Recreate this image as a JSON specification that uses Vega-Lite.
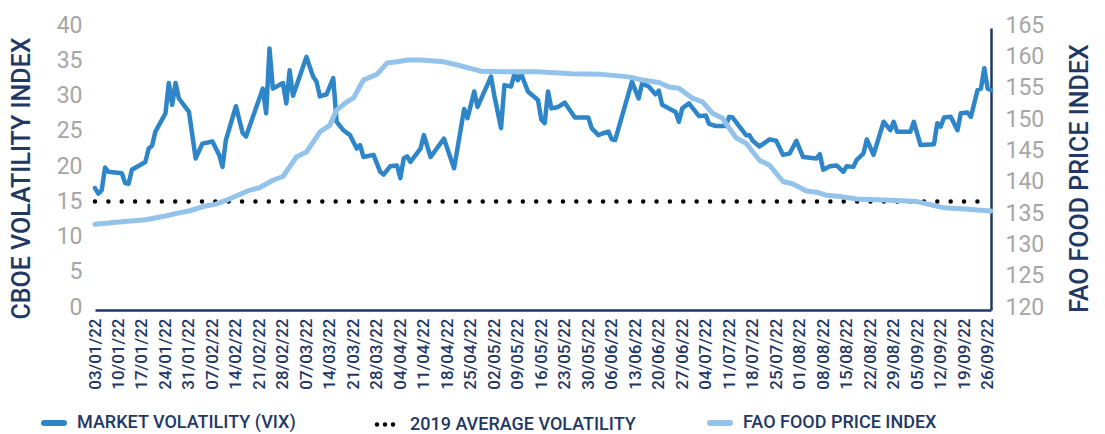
{
  "$schema": "https://vega.github.io/schema/vega-lite/v6.json",
  "width": 896,
  "height": 282,
  "autosize": {"type": "none"},
  "padding": {"left": 95, "top": 28, "right": 114, "bottom": 124},
  "background": "white",
  "config": {
    "view": {"stroke": null},
    "font": "Roboto",
    "axis": {"grid": false, "ticks": false}
  },
  "datasets": {
    "vix": [
      {"date": "2022-01-03", "value": 17.3}, {"date": "2022-01-04", "value": 16.5}, {"date": "2022-01-05", "value": 17.0},
      {"date": "2022-01-06", "value": 20.2}, {"date": "2022-01-07", "value": 19.6}, {"date": "2022-01-11", "value": 19.4},
      {"date": "2022-01-12", "value": 18.0}, {"date": "2022-01-13", "value": 17.9}, {"date": "2022-01-14", "value": 19.9},
      {"date": "2022-01-18", "value": 21.0}, {"date": "2022-01-19", "value": 22.9}, {"date": "2022-01-20", "value": 23.3},
      {"date": "2022-01-21", "value": 25.3}, {"date": "2022-01-24", "value": 27.9}, {"date": "2022-01-25", "value": 32.2},
      {"date": "2022-01-26", "value": 29.1}, {"date": "2022-01-27", "value": 32.2}, {"date": "2022-01-28", "value": 30.0},
      {"date": "2022-01-31", "value": 28.1}, {"date": "2022-02-02", "value": 21.5}, {"date": "2022-02-04", "value": 23.6},
      {"date": "2022-02-07", "value": 23.9}, {"date": "2022-02-09", "value": 22.0}, {"date": "2022-02-10", "value": 20.3},
      {"date": "2022-02-11", "value": 24.1}, {"date": "2022-02-14", "value": 28.9}, {"date": "2022-02-16", "value": 25.1},
      {"date": "2022-02-17", "value": 24.6}, {"date": "2022-02-22", "value": 31.4}, {"date": "2022-02-23", "value": 27.9},
      {"date": "2022-02-24", "value": 37.1}, {"date": "2022-02-25", "value": 31.4}, {"date": "2022-02-28", "value": 32.2},
      {"date": "2022-03-01", "value": 29.3}, {"date": "2022-03-02", "value": 34.0}, {"date": "2022-03-03", "value": 30.4},
      {"date": "2022-03-07", "value": 35.9}, {"date": "2022-03-09", "value": 33.1}, {"date": "2022-03-10", "value": 32.4},
      {"date": "2022-03-11", "value": 30.3}, {"date": "2022-03-13", "value": 30.6}, {"date": "2022-03-15", "value": 32.9},
      {"date": "2022-03-16", "value": 26.7}, {"date": "2022-03-18", "value": 25.5}, {"date": "2022-03-20", "value": 24.8},
      {"date": "2022-03-22", "value": 22.9}, {"date": "2022-03-23", "value": 23.4}, {"date": "2022-03-24", "value": 21.7},
      {"date": "2022-03-27", "value": 22.0}, {"date": "2022-03-29", "value": 19.6}, {"date": "2022-03-30", "value": 19.2},
      {"date": "2022-04-01", "value": 20.4}, {"date": "2022-04-03", "value": 20.5}, {"date": "2022-04-04", "value": 18.7},
      {"date": "2022-04-05", "value": 21.5}, {"date": "2022-04-06", "value": 21.8}, {"date": "2022-04-07", "value": 21.0},
      {"date": "2022-04-10", "value": 22.9}, {"date": "2022-04-11", "value": 24.8}, {"date": "2022-04-13", "value": 21.7},
      {"date": "2022-04-17", "value": 24.3}, {"date": "2022-04-19", "value": 21.5}, {"date": "2022-04-20", "value": 20.1},
      {"date": "2022-04-23", "value": 28.5}, {"date": "2022-04-24", "value": 27.2}, {"date": "2022-04-26", "value": 31.0},
      {"date": "2022-04-27", "value": 28.8}, {"date": "2022-05-01", "value": 33.1}, {"date": "2022-05-02", "value": 30.4},
      {"date": "2022-05-04", "value": 25.8}, {"date": "2022-05-05", "value": 31.9}, {"date": "2022-05-07", "value": 31.7},
      {"date": "2022-05-08", "value": 33.5}, {"date": "2022-05-09", "value": 32.6}, {"date": "2022-05-10", "value": 33.5},
      {"date": "2022-05-12", "value": 31.0}, {"date": "2022-05-15", "value": 29.8}, {"date": "2022-05-16", "value": 27.0},
      {"date": "2022-05-17", "value": 26.5}, {"date": "2022-05-18", "value": 31.0}, {"date": "2022-05-19", "value": 28.6},
      {"date": "2022-05-21", "value": 28.8}, {"date": "2022-05-23", "value": 29.4}, {"date": "2022-05-26", "value": 27.3},
      {"date": "2022-05-30", "value": 27.3}, {"date": "2022-05-31", "value": 25.8}, {"date": "2022-06-02", "value": 24.8},
      {"date": "2022-06-03", "value": 25.0}, {"date": "2022-06-05", "value": 25.3}, {"date": "2022-06-06", "value": 24.2},
      {"date": "2022-06-07", "value": 24.1}, {"date": "2022-06-12", "value": 32.4}, {"date": "2022-06-14", "value": 30.0},
      {"date": "2022-06-15", "value": 32.1}, {"date": "2022-06-17", "value": 31.7}, {"date": "2022-06-19", "value": 30.6},
      {"date": "2022-06-20", "value": 31.1}, {"date": "2022-06-21", "value": 29.1}, {"date": "2022-06-25", "value": 28.1},
      {"date": "2022-06-26", "value": 26.7}, {"date": "2022-06-27", "value": 28.6}, {"date": "2022-06-29", "value": 29.3},
      {"date": "2022-07-02", "value": 27.5}, {"date": "2022-07-04", "value": 27.6}, {"date": "2022-07-05", "value": 26.4},
      {"date": "2022-07-07", "value": 26.1}, {"date": "2022-07-10", "value": 26.1}, {"date": "2022-07-11", "value": 27.4},
      {"date": "2022-07-12", "value": 27.3}, {"date": "2022-07-16", "value": 24.8}, {"date": "2022-07-17", "value": 24.8},
      {"date": "2022-07-18", "value": 24.0}, {"date": "2022-07-20", "value": 23.2}, {"date": "2022-07-23", "value": 24.2},
      {"date": "2022-07-25", "value": 24.0}, {"date": "2022-07-27", "value": 22.0}, {"date": "2022-07-29", "value": 22.2},
      {"date": "2022-07-31", "value": 24.0}, {"date": "2022-08-02", "value": 21.7}, {"date": "2022-08-06", "value": 21.5},
      {"date": "2022-08-07", "value": 22.1}, {"date": "2022-08-08", "value": 19.9}, {"date": "2022-08-10", "value": 20.4},
      {"date": "2022-08-12", "value": 20.5}, {"date": "2022-08-14", "value": 19.6}, {"date": "2022-08-15", "value": 20.4},
      {"date": "2022-08-17", "value": 20.3}, {"date": "2022-08-18", "value": 21.3}, {"date": "2022-08-20", "value": 22.2},
      {"date": "2022-08-21", "value": 24.2}, {"date": "2022-08-23", "value": 22.0}, {"date": "2022-08-26", "value": 26.7},
      {"date": "2022-08-28", "value": 25.5}, {"date": "2022-08-29", "value": 26.7}, {"date": "2022-08-30", "value": 25.3},
      {"date": "2022-09-03", "value": 25.3}, {"date": "2022-09-04", "value": 26.7}, {"date": "2022-09-06", "value": 23.4},
      {"date": "2022-09-10", "value": 23.5}, {"date": "2022-09-11", "value": 26.5}, {"date": "2022-09-12", "value": 26.0},
      {"date": "2022-09-13", "value": 27.3}, {"date": "2022-09-15", "value": 27.4}, {"date": "2022-09-17", "value": 25.5},
      {"date": "2022-09-18", "value": 27.9}, {"date": "2022-09-20", "value": 28.0}, {"date": "2022-09-21", "value": 27.4},
      {"date": "2022-09-23", "value": 31.2}, {"date": "2022-09-24", "value": 31.4}, {"date": "2022-09-25", "value": 34.3},
      {"date": "2022-09-26", "value": 31.4}, {"date": "2022-09-27", "value": 31.2}
    ],
    "avg": [
      {"date": "2022-01-03", "value": 15.39},
      {"date": "2022-09-23", "value": 15.39}
    ],
    "fao": [
      {"date": "2022-01-03", "value": 133.7}, {"date": "2022-01-11", "value": 134.1}, {"date": "2022-01-18", "value": 134.4},
      {"date": "2022-01-24", "value": 135.0}, {"date": "2022-01-28", "value": 135.5}, {"date": "2022-01-31", "value": 135.8},
      {"date": "2022-02-05", "value": 136.6}, {"date": "2022-02-08", "value": 136.9}, {"date": "2022-02-12", "value": 137.7},
      {"date": "2022-02-18", "value": 139.1}, {"date": "2022-02-21", "value": 139.5}, {"date": "2022-02-25", "value": 140.7},
      {"date": "2022-02-28", "value": 141.3}, {"date": "2022-03-04", "value": 144.4}, {"date": "2022-03-07", "value": 145.2},
      {"date": "2022-03-11", "value": 148.4}, {"date": "2022-03-14", "value": 149.5}, {"date": "2022-03-16", "value": 151.9},
      {"date": "2022-03-19", "value": 153.2}, {"date": "2022-03-21", "value": 153.8}, {"date": "2022-03-24", "value": 156.7},
      {"date": "2022-03-28", "value": 157.6}, {"date": "2022-03-31", "value": 159.4}, {"date": "2022-04-03", "value": 159.6},
      {"date": "2022-04-06", "value": 159.9}, {"date": "2022-04-10", "value": 159.9}, {"date": "2022-04-17", "value": 159.6},
      {"date": "2022-04-21", "value": 159.1}, {"date": "2022-04-26", "value": 158.4}, {"date": "2022-04-28", "value": 158.1},
      {"date": "2022-05-05", "value": 158.0}, {"date": "2022-05-15", "value": 158.0}, {"date": "2022-05-25", "value": 157.7},
      {"date": "2022-06-03", "value": 157.6}, {"date": "2022-06-11", "value": 157.2}, {"date": "2022-06-15", "value": 156.7},
      {"date": "2022-06-20", "value": 156.3}, {"date": "2022-06-23", "value": 155.6}, {"date": "2022-06-26", "value": 155.4},
      {"date": "2022-06-30", "value": 153.8}, {"date": "2022-07-03", "value": 153.2}, {"date": "2022-07-06", "value": 151.4},
      {"date": "2022-07-09", "value": 150.6}, {"date": "2022-07-11", "value": 149.0}, {"date": "2022-07-13", "value": 147.5},
      {"date": "2022-07-16", "value": 146.6}, {"date": "2022-07-20", "value": 143.9}, {"date": "2022-07-23", "value": 143.1},
      {"date": "2022-07-27", "value": 140.5}, {"date": "2022-07-30", "value": 140.1}, {"date": "2022-08-03", "value": 139.0},
      {"date": "2022-08-06", "value": 138.8}, {"date": "2022-08-09", "value": 138.3}, {"date": "2022-08-13", "value": 138.1},
      {"date": "2022-08-18", "value": 137.7}, {"date": "2022-08-28", "value": 137.5}, {"date": "2022-09-05", "value": 137.3},
      {"date": "2022-09-13", "value": 136.3}, {"date": "2022-09-19", "value": 136.1}, {"date": "2022-09-27", "value": 135.8}
    ]
  },
  "encoding": {
    "x": {
      "field": "date",
      "type": "temporal",
      "scale": {
        "type": "utc",
        "domain": [
          {"year": 2022, "month": 1, "date": 3, "utc": true},
          {"year": 2022, "month": 9, "date": 27, "utc": true}
        ]
      },
      "axis": {
        "title": null,
        "format": "%d/%m/%y",
        "labelAngle": 270,
        "labelFontSize": 17,
        "labelFontWeight": 500,
        "labelColor": "#1F3864",
        "labelPadding": 8,
        "labelOverlap": false,
        "labelFlush": false,
        "domainColor": "#1F3864",
        "domainWidth": 2.5,
        "values": [
          {"year": 2022, "month": 1, "date": 3, "utc": true}, {"year": 2022, "month": 1, "date": 10, "utc": true},
          {"year": 2022, "month": 1, "date": 17, "utc": true}, {"year": 2022, "month": 1, "date": 24, "utc": true},
          {"year": 2022, "month": 1, "date": 31, "utc": true}, {"year": 2022, "month": 2, "date": 7, "utc": true},
          {"year": 2022, "month": 2, "date": 14, "utc": true}, {"year": 2022, "month": 2, "date": 21, "utc": true},
          {"year": 2022, "month": 2, "date": 28, "utc": true}, {"year": 2022, "month": 3, "date": 7, "utc": true},
          {"year": 2022, "month": 3, "date": 14, "utc": true}, {"year": 2022, "month": 3, "date": 21, "utc": true},
          {"year": 2022, "month": 3, "date": 28, "utc": true}, {"year": 2022, "month": 4, "date": 4, "utc": true},
          {"year": 2022, "month": 4, "date": 11, "utc": true}, {"year": 2022, "month": 4, "date": 18, "utc": true},
          {"year": 2022, "month": 4, "date": 25, "utc": true}, {"year": 2022, "month": 5, "date": 2, "utc": true},
          {"year": 2022, "month": 5, "date": 9, "utc": true}, {"year": 2022, "month": 5, "date": 16, "utc": true},
          {"year": 2022, "month": 5, "date": 23, "utc": true}, {"year": 2022, "month": 5, "date": 30, "utc": true},
          {"year": 2022, "month": 6, "date": 6, "utc": true}, {"year": 2022, "month": 6, "date": 13, "utc": true},
          {"year": 2022, "month": 6, "date": 20, "utc": true}, {"year": 2022, "month": 6, "date": 27, "utc": true},
          {"year": 2022, "month": 7, "date": 4, "utc": true}, {"year": 2022, "month": 7, "date": 11, "utc": true},
          {"year": 2022, "month": 7, "date": 18, "utc": true}, {"year": 2022, "month": 7, "date": 25, "utc": true},
          {"year": 2022, "month": 8, "date": 1, "utc": true}, {"year": 2022, "month": 8, "date": 8, "utc": true},
          {"year": 2022, "month": 8, "date": 15, "utc": true}, {"year": 2022, "month": 8, "date": 22, "utc": true},
          {"year": 2022, "month": 8, "date": 29, "utc": true}, {"year": 2022, "month": 9, "date": 5, "utc": true},
          {"year": 2022, "month": 9, "date": 12, "utc": true}, {"year": 2022, "month": 9, "date": 19, "utc": true},
          {"year": 2022, "month": 9, "date": 26, "utc": true}
        ]
      }
    }
  },
  "layer": [
    {
      "encoding": {
        "y": {
          "field": "value",
          "type": "quantitative",
          "scale": {"domain": [0, 40], "nice": false, "zero": false},
          "axis": {
            "orient": "left",
            "values": [0, 5, 10, 15, 20, 25, 30, 35, 40],
            "domain": false,
            "labelColor": "#A6A6A6",
            "labelFontSize": 23,
            "labelPadding": 13,
            "labelOffset": -3,
            "title": "CBOE VOLATILITY INDEX",
            "titleColor": "#1F3864",
            "titleFontSize": 25,
            "titleFontWeight": 500,
            "titleAngle": 270,
            "titleX": -74,
            "titleY": 150,
            "titleAlign": "center",
            "titleBaseline": "middle"
          }
        }
      },
      "layer": [
        {
          "data": {"name": "vix"},
          "mark": {"type": "line", "strokeWidth": 4.5, "strokeJoin": "round", "strokeCap": "round"},
          "encoding": {
            "color": {
              "datum": "MARKET VOLATILITY (VIX)",
              "type": "nominal",
              "scale": {
                "domain": ["MARKET VOLATILITY (VIX)", "2019 AVERAGE VOLATILITY", "FAO FOOD PRICE INDEX"],
                "range": ["#2E86C8", "#000000", "#93C3EA"]
              },
              "legend": {
                "title": null,
                "orient": "none",
                "direction": "horizontal",
                "columns": 3,
                "legendX": -50,
                "legendY": 386,
                "gridAlign": "all",
                "columnPadding": 62,
                "symbolType": "stroke",
                "symbolSize": 400,
                "symbolStrokeWidth": 6,
                "labelFont": "Roboto",
                "labelFontSize": 18,
                "labelFontWeight": 500,
                "labelColor": "#1F3864",
                "labelOffset": 14,
                "labelLimit": 400,
                "encode": {
                  "symbols": {
                    "update": {
                      "strokeCap": {"value": "round"},
                      "strokeDash": {"signal": "datum.value === '2019 AVERAGE VOLATILITY' ? [0, 8] : [1, 0]"},
                      "strokeWidth": {"signal": "datum.value === '2019 AVERAGE VOLATILITY' ? 4.5 : 6"}
                    }
                  }
                }
              }
            }
          }
        },
        {
          "data": {"name": "avg"},
          "mark": {"type": "line", "strokeWidth": 4.5, "strokeCap": "round", "strokeDash": [0, 13.37]},
          "encoding": {
            "color": {"datum": "2019 AVERAGE VOLATILITY", "type": "nominal"}
          }
        }
      ]
    },
    {
      "data": {"name": "fao"},
      "mark": {"type": "line", "strokeWidth": 5, "strokeJoin": "round", "strokeCap": "round"},
      "encoding": {
        "y": {
          "field": "value",
          "type": "quantitative",
          "scale": {"domain": [120, 165], "nice": false, "zero": false},
          "axis": {
            "orient": "right",
            "values": [120, 125, 130, 135, 140, 145, 150, 155, 160, 165],
            "domain": true,
            "domainColor": "#1F3864",
            "domainWidth": 2.5,
            "labelColor": "#A6A6A6",
            "labelFontSize": 23,
            "labelPadding": 14,
            "labelOffset": -3,
            "title": "FAO FOOD PRICE INDEX",
            "titleColor": "#1F3864",
            "titleFontSize": 25,
            "titleFontWeight": 500,
            "titleAngle": 270,
            "titleX": 88,
            "titleY": 150,
            "titleAlign": "center",
            "titleBaseline": "middle"
          }
        },
        "color": {"datum": "FAO FOOD PRICE INDEX", "type": "nominal"}
      }
    }
  ],
  "resolve": {"scale": {"y": "independent"}}
}
